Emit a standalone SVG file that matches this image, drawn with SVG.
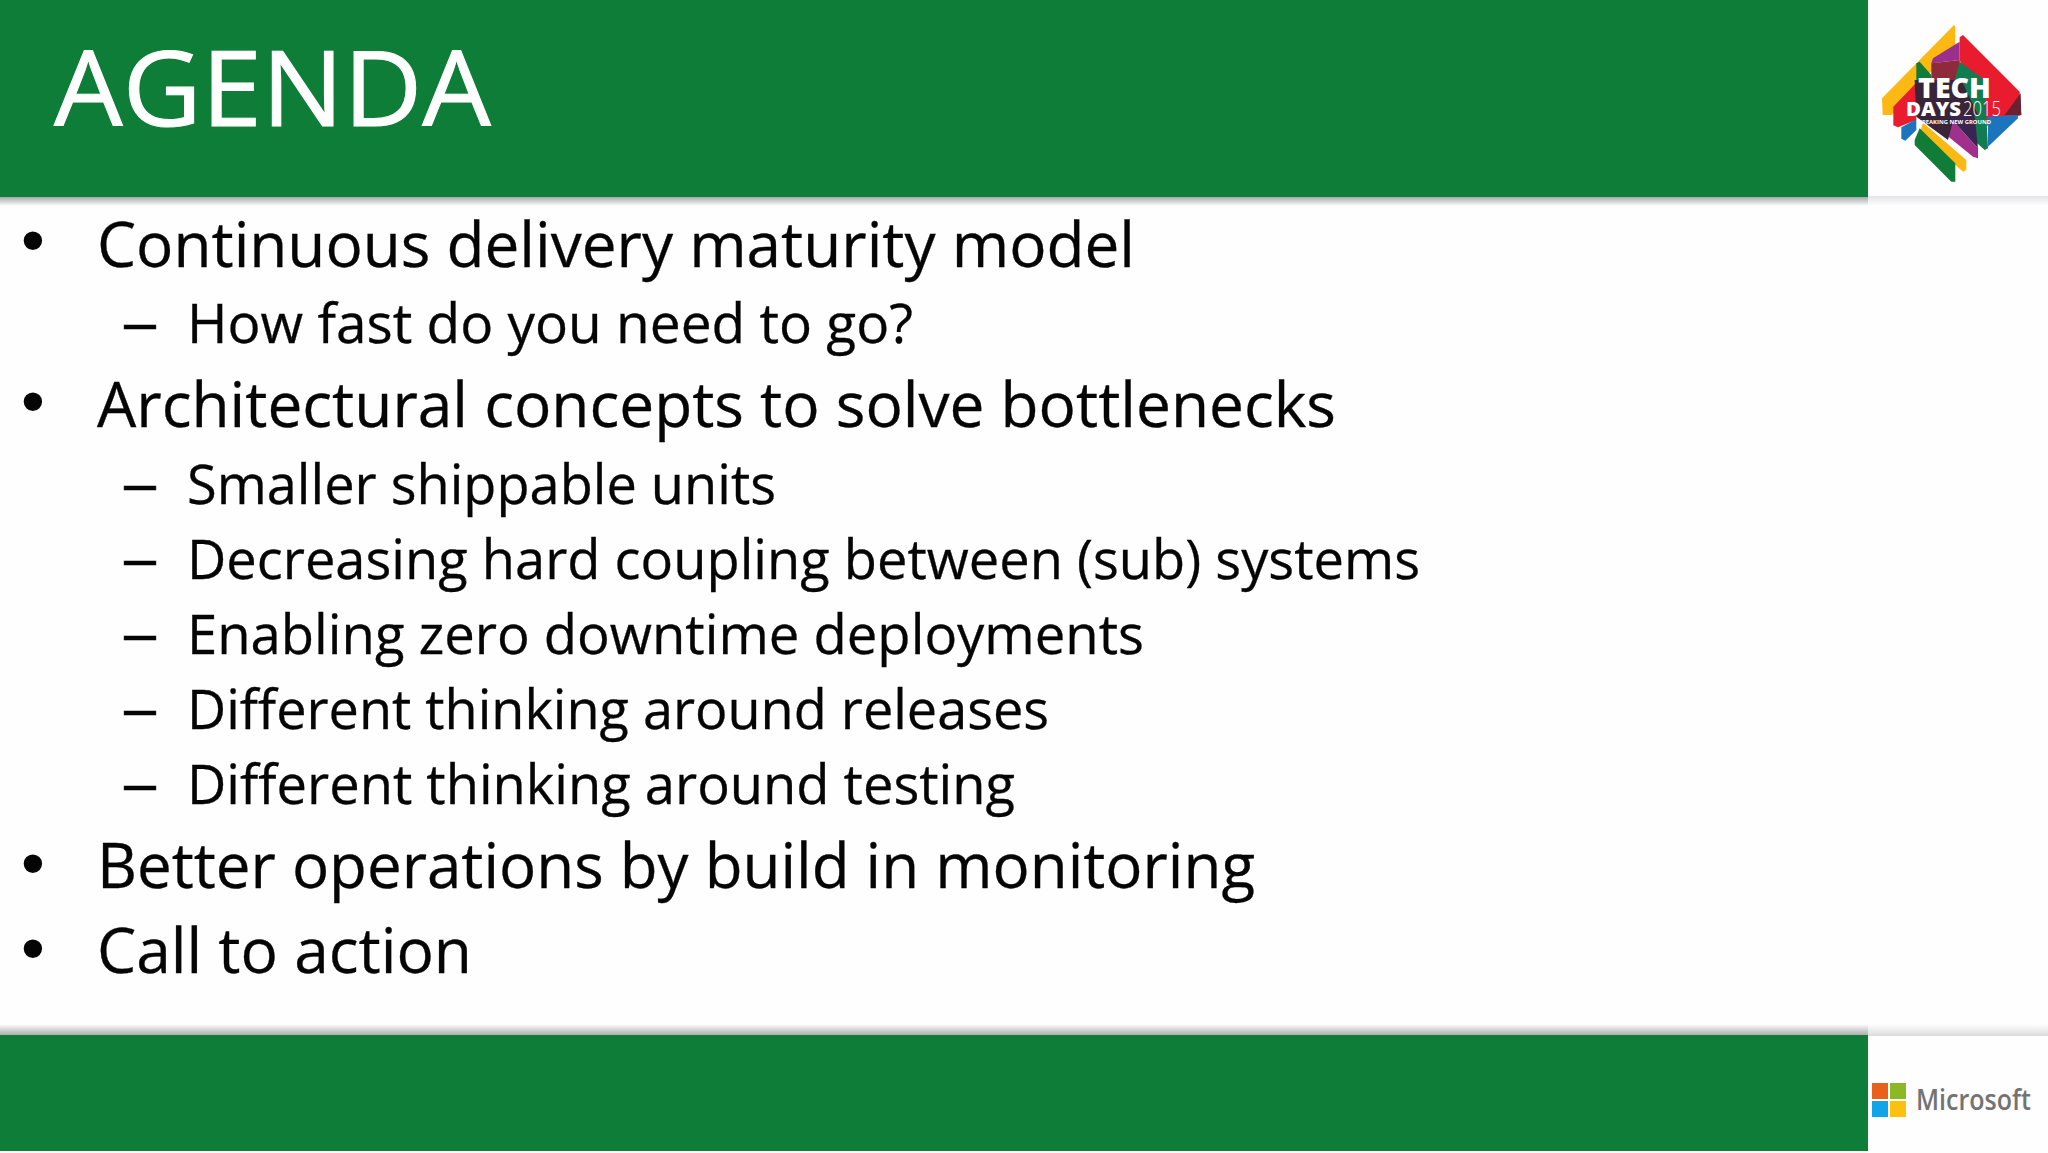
<svg xmlns="http://www.w3.org/2000/svg" width="2048" height="1153" viewBox="0 0 2048 1153">
<defs>
<linearGradient id="sh" x1="0" y1="0" x2="0" y2="1"><stop offset="0" stop-color="#9aa0a0"/><stop offset="1" stop-color="#fff"/></linearGradient>
<linearGradient id="sl" x1="0" y1="0" x2="0" y2="1"><stop offset="0" stop-color="#e4e4e6"/><stop offset="1" stop-color="#fff"/></linearGradient>
<linearGradient id="su" x1="0" y1="0" x2="0" y2="1"><stop offset="0" stop-color="#fff"/><stop offset="1" stop-color="#a4a8a8"/></linearGradient>
<linearGradient id="sv" x1="0" y1="0" x2="0" y2="1"><stop offset="0" stop-color="#fff"/><stop offset="1" stop-color="#dcdcde"/></linearGradient>
</defs>
<style>
text{font-family:"Open Sans","Noto Sans","Liberation Sans",sans-serif;fill:#050505}
.l1{font-size:62px;stroke:#050505;stroke-width:.3px}
.l2{font-size:54px;stroke:#050505;stroke-width:.3px}
.b{font-family:"Liberation Sans",sans-serif;font-size:68px}
.logo path{stroke-linejoin:round;stroke-width:6px}
</style>
<rect width="2048" height="1153" fill="#fefefe"/>
<g id="header">
<rect x="0" y="196" width="1868" height="10" fill="url(#sh)"/>
<rect x="1868" y="196" width="180" height="10" fill="url(#sl)"/>
<rect width="1868" height="197" fill="#0e7d37"/>
<text x="54" y="126" font-size="104" style="fill:#fff;stroke:#fff;stroke-width:1px" textLength="437" lengthAdjust="spacingAndGlyphs">AGENDA</text>
</g>
<g id="logo">
<g class="logo" transform="translate(1848 0) scale(.3333)">
<path d="M318 75 L322 80 L322 135 L132 345 L104 345 L102 295 Z" fill="#fdb913"/>
<path d="M225 368 L355 480 L355 510 L345 515 L215 400 Z" fill="#fdb913"/>
<path d="M136 320 L205 248 L205 360 L150 382 L136 376 Z" fill="#e81c2e"/>
<path d="M160 382 L205 358 L205 390 L172 422 L160 416 Z" fill="#1c75bc"/>
<path d="M200 420 L215 385 L322 490 L322 545 L310 545 L200 435 Z" fill="#107c38"/>
<path d="M335 125 L335 180 L250 190 L255 175 Z" fill="#9a2f8e"/>
<path d="M240 360 L300 345 L390 445 L390 475 L375 470 Z" fill="#a0308c"/>
<path d="M335 112 L345 105 L515 275 L520 345 L420 380 L335 180 Z" fill="#e81c2e"/>
<path d="M250 190 L335 180 L340 245 L250 245 Z" fill="#8e2a3a"/>
<path d="M335 185 L410 240 L420 445 L410 450 L300 350 L320 240 Z" fill="#107c50"/>
<path d="M420 350 L510 345 L510 355 L420 440 Z" fill="#1c75bc"/>
<path d="M470 345 L518 280 L520 345 Z" fill="#6b2230"/>
<path d="M205 190 L215 185 L250 225 L250 245 L205 245 Z" fill="#107c38"/>
<path d="M200 240 L340 240 L390 345 L320 345 L300 420 L205 350 Z" fill="#3a2438"/>
<path d="M300 345 L380 345 L390 445 Z" fill="#3a2450"/>
</g>
<text x="1918" y="98" font-size="29" font-weight="800" style="fill:#fff" textLength="73" lengthAdjust="spacingAndGlyphs">TECH</text>
<text x="1906" y="116" font-size="20" font-weight="800" style="fill:#fff" textLength="55" lengthAdjust="spacingAndGlyphs">DAYS</text>
<text x="1963" y="116" font-size="20" font-weight="300" style="fill:#fff" textLength="38" lengthAdjust="spacingAndGlyphs">2015</text>
<text x="1918" y="124" font-size="5.5" font-weight="700" style="fill:#fff" textLength="73" lengthAdjust="spacingAndGlyphs">BREAKING NEW GROUND</text>
</g>
<g id="bullets">
<text class="b" x="21" y="263">•</text>
<text class="l2" x="121" y="342" textLength="38" lengthAdjust="spacingAndGlyphs">–</text>
<text class="l1" x="97" y="267" textLength="1038" lengthAdjust="spacingAndGlyphs">Continuous delivery maturity model</text>
<text class="l2" x="187" y="343" textLength="726" lengthAdjust="spacingAndGlyphs">How fast do you need to go?</text>
<text class="b" x="21" y="424">•</text>
<text class="l1" x="97" y="427" textLength="1239" lengthAdjust="spacingAndGlyphs">Architectural concepts to solve bottlenecks</text>
<text class="l2" x="121" y="503" textLength="38" lengthAdjust="spacingAndGlyphs">–</text>
<text class="l2" x="187" y="504" textLength="589" lengthAdjust="spacingAndGlyphs">Smaller shippable units</text>
<text class="l2" x="121" y="578" textLength="38" lengthAdjust="spacingAndGlyphs">–</text>
<text class="l2" x="187" y="579" textLength="1233" lengthAdjust="spacingAndGlyphs">Decreasing hard coupling between (sub) systems</text>
<text class="l2" x="121" y="653" textLength="38" lengthAdjust="spacingAndGlyphs">–</text>
<text class="l2" x="187" y="654" textLength="957" lengthAdjust="spacingAndGlyphs">Enabling zero downtime deployments</text>
<text class="l2" x="121" y="728" textLength="38" lengthAdjust="spacingAndGlyphs">–</text>
<text class="l2" x="187" y="729" textLength="862" lengthAdjust="spacingAndGlyphs">Different thinking around releases</text>
<text class="l2" x="121" y="803" textLength="38" lengthAdjust="spacingAndGlyphs">–</text>
<text class="l2" x="187" y="804" textLength="828" lengthAdjust="spacingAndGlyphs">Different thinking around testing</text>
<text class="b" x="21" y="886">•</text>
<text class="l1" x="97" y="888" textLength="1158" lengthAdjust="spacingAndGlyphs">Better operations by build in monitoring</text>
<text class="b" x="21" y="971">•</text>
<text class="l1" x="97" y="973" textLength="375" lengthAdjust="spacingAndGlyphs">Call to action</text>
</g>
<g id="footer">
<rect x="0" y="1024" width="1868" height="12" fill="url(#su)"/>
<rect x="1868" y="1024" width="180" height="12" fill="url(#sv)"/>
<rect x="0" y="1035" width="1868" height="116" fill="#0e7d37"/>
</g>
<g id="microsoft">
<rect x="1872" y="1083" width="16" height="16" fill="#e8601a"/>
<rect x="1890" y="1083" width="16" height="16" fill="#8cb826"/>
<rect x="1872" y="1101" width="16" height="16" fill="#10a4e8"/>
<rect x="1890" y="1101" width="16" height="16" fill="#fcc10e"/>
<text x="1916" y="1110" font-size="29" font-weight="600" style="fill:#737373" textLength="115" lengthAdjust="spacingAndGlyphs">Microsoft</text>
</g>
</svg>
